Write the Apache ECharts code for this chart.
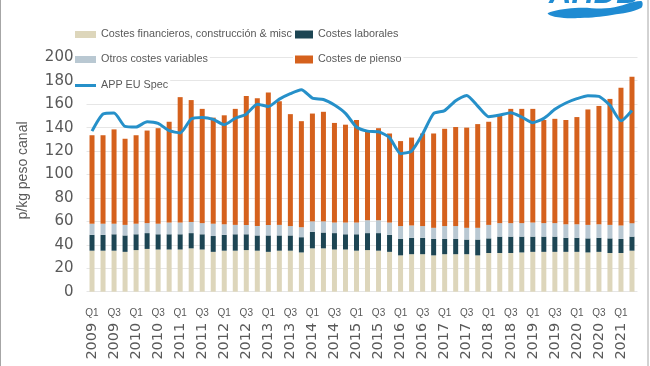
<!DOCTYPE html>
<html>
<head>
<meta charset="utf-8">
<script src="https://cdn.jsdelivr.net/npm/echarts@6/dist/echarts.min.js"></script>
<style>
html,body{margin:0;padding:0;background:#fff;}
#chart{width:650px;height:366px;}
</style>
</head>
<body>
<div id="chart"></div>
<script>
// Quarter tick labels and year tick labels (Q1 2009 .. Q2 2021)
const quarterLabels = [];
const yearLabels = [];
for (let y = 2009; y <= 2021; y++) {
  for (let q = 1; q <= 4; q++) {
    if (y === 2021 && q > 2) break;
    quarterLabels.push('Q' + q);
    yearLabels.push(String(y));
  }
}

// Series values (p/kg peso canal)
const costesFinancieros = [35,35,35,34,35.5,36.5,36,36,36,37,36,34,35,35,35.5,35,34,35,35,33.5,37,37,36,36,35,35.5,35,34,31,32,32,31,32,32,32,31,33,33,33,33.5,34,34,34,34,34,33.5,34,33,33,35];
const costesLaborales = [13.5,13.5,14,14,13.5,13.5,13,13,13,13,13,13.5,13.5,14,13.5,13,14,13,13,13,14,13.5,14,13,14,14.5,15,14.5,14,14,14,14,13,13,12.5,13.5,12.5,14,14,13.5,13,13,13,12,12,12,12,12.5,12,12];
const otrosCostesVariables = [9.5,9.5,9,9,9,8.5,9,10,10,9.5,9.5,10.5,9,8,8,8,9,9,8,8.5,9,9.5,9,10,10,11,11,10.5,11,10.5,10,9.5,11,11,10,10,11.5,11.5,11.5,11.5,12,11.5,11.5,11.5,11.5,11.5,11.5,11.5,11.5,11.5];
const costesPienso = [75.5,75.5,80.5,73.5,75.5,79,81.5,86,107,104,97.5,90.5,93,99,110,109,113,105.5,95.5,90.5,92,93.5,85,83.5,87.5,76,78.5,76,72.5,75,79,80.5,83,84.5,85.5,88.5,88,91.5,97.5,97.5,97,88,89,89,91.5,98.5,101,107.5,117.5,125];
const appEuSpec = [137,151.6,152.5,141,140.5,145,143.6,137.4,135.5,147.4,148.6,147,142.5,148,151.5,160,158,164.3,169,172.3,165.2,164,159.3,152.2,140.5,137,136.5,131.5,117.8,120,134.5,152,154.5,163,167.5,158.4,149.3,150.7,152.7,149,144.2,147.9,155.6,161,164.7,167.2,166.7,159,145.8,154.7];

const yTicks = {min: 0, max: 200, interval: 20};

const names = ['Costes financieros, construcción & misc','Costes laborales','Otros costes variables','Costes de pienso','APP EU Spec'];
const colors = ['#ddd6bb','#1d4553','#b9c8d2','#d5611d','#2690c9'];

const TXT = '#595959';
const legendFont = {color: TXT, fontSize: 10.8, fontFamily: '"Liberation Sans", Arial, sans-serif'};

function leg(name, left, top, w, h) {
  return {
    data: [name], left: left, top: top, padding: [2, 2], backgroundColor: '#fff',
    itemWidth: w, itemHeight: h, textStyle: legendFont, selectedMode: false, icon: 'rect'
  };
}

const chart = echarts.init(document.getElementById('chart'), null, {renderer: 'canvas'});

const barSeries = [costesFinancieros, costesLaborales, otrosCostesVariables, costesPienso].map((d, i) => ({
  name: names[i], type: 'bar', stack: 'total', data: d, barWidth: 5,
  itemStyle: {color: colors[i]}, xAxisIndex: 0, yAxisIndex: 0
}));

chart.setOption({
  animation: false,
  backgroundColor: '#fff',
  grid: {left: 86.5, right: 12.5, top: 57.3, bottom: 74.3, containLabel: false},
  legend: [
    leg(names[0], 73, 27, 21, 7),
    leg(names[1], 293, 27, 18, 8),
    leg(names[2], 73, 52, 21, 7),
    leg(names[3], 293, 52, 18, 8),
    leg(names[4], 73, 78, 21, 3)
  ],
  xAxis: [
    {
      type: 'category', data: quarterLabels, position: 'bottom',
      axisLine: {show: false}, axisTick: {show: false},
      axisLabel: {interval: 1, color: TXT, fontSize: 10, margin: 17, fontFamily: '"Liberation Sans", Arial, sans-serif'}
    },
    {
      type: 'category', data: yearLabels, position: 'bottom',
      axisLine: {show: false}, axisTick: {show: false},
      axisLabel: {interval: 1, rotate: 90, color: TXT, fontSize: 14.5, margin: 31, fontFamily: '"DejaVu Sans", sans-serif'}
    }
  ],
  yAxis: {
    type: 'value', min: yTicks.min, max: yTicks.max, interval: yTicks.interval,
    name: 'p/kg peso canal', nameLocation: 'middle', nameGap: 56,
    nameTextStyle: {color: TXT, fontSize: 14, fontFamily: '"Liberation Sans", Arial, sans-serif', padding: [0, 0, 0, 8]},
    axisLine: {show: false}, axisTick: {show: false},
    axisLabel: {color: TXT, fontSize: 15, margin: 13, fontFamily: '"DejaVu Sans", sans-serif'},
    splitLine: {lineStyle: {color: '#e6e6e6', width: 1}}
  },
  series: barSeries.concat([{
    name: names[4], type: 'line', data: appEuSpec, symbol: 'none', smooth: 0.2,
    lineStyle: {color: colors[4], width: 3}, itemStyle: {color: colors[4]}, z: 5
  }]),
  graphic: [
    {type: 'rect', shape: {x: 0.5, y: -2, width: 647.5, height: 370}, style: {fill: 'none', stroke: '#a6a6a6', lineWidth: 1}, silent: true},
    {type: 'text', x: 549, y: -6, style: {text: 'AHDB', fill: '#1f8bd2', font: 'italic bold 31px "Liberation Sans", Arial, sans-serif', verticalAlign: 'middle'}, silent: true},
    {type: 'polygon', shape: {smooth: 0.4, points: [[548,13],[575,8],[610,8],[641,1],[641,8],[612,15],[580,18],[556,17]]}, style: {fill: '#1f8bd2'}, silent: true}
  ]
});
</script>
</body>
</html>
